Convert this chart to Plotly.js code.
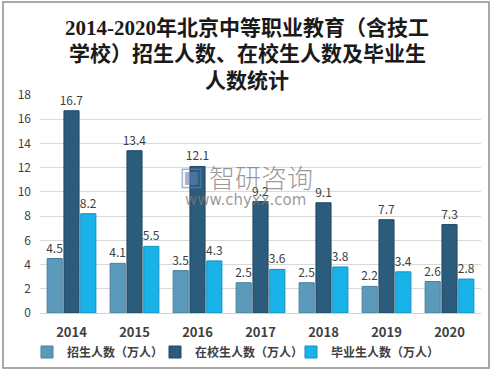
<!DOCTYPE html>
<html><head><meta charset="utf-8">
<script src="https://cdn.plot.ly/plotly-3.0.1.min.js"></script>
<style>body{margin:0;padding:0;background:#fff}#c{width:494px;height:374px}</style>
</head><body><div id="c"></div>
<script>
const years = ['2014','2015','2016','2017','2018','2019','2020'];
const enrolled = [4.5, 4.1, 3.5, 2.5, 2.5, 2.2, 2.6];
const inSchool = [16.7, 13.4, 12.1, 9.2, 9.1, 7.7, 7.3];
const graduates = [8.2, 5.5, 4.3, 3.6, 3.8, 3.4, 2.8];
const seriesNames = ['招生人数（万人）', '在校生人数（万人）', '毕业生人数（万人）'];
const yTicks = [0, 2, 4, 6, 8, 10, 12, 14, 16, 18];
const titleLines = ['2014-2020年北京中等职业教育（含技工', '学校）招生人数、在校生人数及毕业生', '人数统计'];

const colors = ['#5b9aba', '#2b5c7c', '#19b3ea'];
const lines = ['#4a7f9c', '#1d4862', '#0f8fc0'];
const cjk = '"Noto Sans CJK SC", "Noto Sans", sans-serif';
const serif = '"Liberation Serif", "Noto Sans CJK SC", serif';
const legendIds = ['legend', 'legend2', 'legend3'];

function mk(vals, i) {
  return {
    type: 'bar', x: years, y: vals, name: seriesNames[i], legend: legendIds[i],
    marker: {color: colors[i], line: {color: lines[i], width: 1}},
    text: vals.map(v => v.toFixed(1)), textposition: 'outside', constraintext: 'none',
    textfont: {family: cjk, size: 12, color: '#404040'},
    cliponaxis: false, hoverinfo: 'skip'
  };
}
const data = [mk(enrolled, 0), mk(inSchool, 1), mk(graduates, 2)];

const W = 494, H = 374;
const L = 40, R = 481, T = 95, B = 313;
const px = x => (x - L) / (R - L);
const py = y => (B - y) / (B - T);

const titleY = [28, 54, 81];
const annotations = titleLines.map((t, i) => ({
  xref: 'paper', yref: 'paper', x: px(247), y: py(titleY[i]), text: t, showarrow: false,
  xanchor: 'center', yanchor: 'middle',
  font: {family: serif, size: 21, color: '#1a1a1a', weight: 'bold'}
}));
annotations.push(
  {xref: 'paper', yref: 'paper', x: px(261), y: py(176), text: '智研咨询', showarrow: false,
   font: {family: cjk, size: 26, color: 'rgba(120,120,120,0.75)', weight: 300}, xanchor: 'center', yanchor: 'middle'},
  {xref: 'paper', yref: 'paper', x: px(245), y: py(200), text: 'www.chyxx.com', showarrow: false,
   font: {family: '"DejaVu Sans", sans-serif', size: 15, color: 'rgba(120,120,120,0.75)'}, xanchor: 'center', yanchor: 'middle'},
  {xref: 'paper', yref: 'paper', x: px(191), y: py(176), text: '▣', showarrow: false,
   font: {family: '"DejaVu Sans", sans-serif', size: 26, color: 'rgba(100,130,180,0.6)'}, xanchor: 'center', yanchor: 'middle'}
);

function leg(xpx) {
  return {
    orientation: 'h', xref: 'container', yref: 'container',
    x: xpx / W, xanchor: 'left', y: (H - 352) / H, yanchor: 'middle',
    font: {family: cjk, size: 12, color: '#404040', weight: 'bold'},
    itemwidth: 30, bgcolor: 'rgba(0,0,0,0)', borderwidth: 0
  };
}

const layout = {
  width: W, height: H,
  margin: {l: L, r: W - R, t: T, b: H - B, pad: 0},
  paper_bgcolor: '#ffffff', plot_bgcolor: '#ffffff',
  barmode: 'group', bargap: 0.2, bargroupgap: 0.1,
  xaxis: {
    type: 'category', showgrid: false, showline: false, ticks: '',
    tickfont: {family: cjk, size: 13, color: '#404040', weight: 'bold'},
    ticklabelstandoff: 10
  },
  yaxis: {
    range: [0, 18], tickvals: yTicks, showgrid: true, gridcolor: '#d9d9d9', gridwidth: 1,
    zeroline: true, zerolinecolor: '#d0d0d0', zerolinewidth: 1, showline: false, ticks: '',
    tickfont: {family: cjk, size: 12, color: '#404040'}, ticklabelstandoff: 8
  },
  showlegend: true,
  legend: leg(27), legend2: leg(155), legend3: leg(291),
  shapes: [{
    type: 'rect', xref: 'paper', yref: 'paper',
    x0: px(3), x1: px(489), y0: py(368), y1: py(2),
    line: {color: '#8c8c8c', width: 1.5}, fillcolor: 'rgba(0,0,0,0)', layer: 'below'
  }],
  annotations: annotations
};

Plotly.newPlot('c', data, layout, {displayModeBar: false, staticPlot: true});
</script>
</body></html>
